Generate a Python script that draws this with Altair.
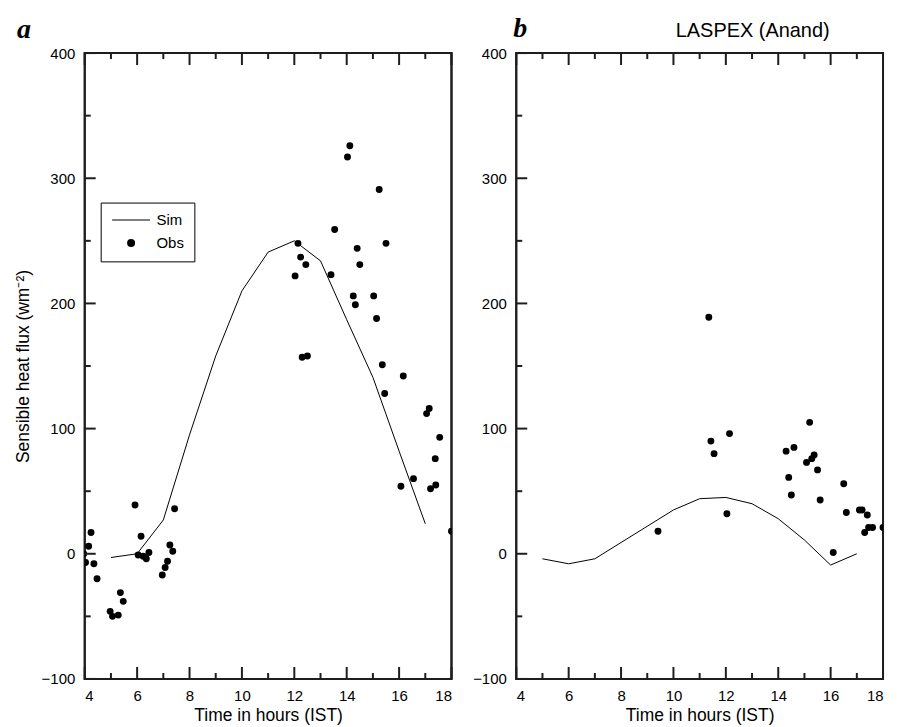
import altair as alt
import pandas as pd

# ---- axis ticks / labels ----
X_MAJOR = [4, 6, 8, 10, 12, 14, 16, 18]
X_MINOR = [5, 7, 9, 11, 13, 15, 17]
Y_MAJOR = [-100, 0, 100, 200, 300, 400]
Y_MINOR = [-50, 50, 150, 250, 350]

# ---- simulated series (hourly) ----
SIM_HOURS = [5, 6, 7, 8, 9, 10, 11, 12, 13, 14, 15, 16, 17]
SIM_A = [-3, 0, 27, 95, 158, 210, 241, 250, 234, 187, 141, 82, 24]
SIM_B = [-4, -8, -4, 9, 22, 35, 44, 45, 40, 28, 11, -9, 0]

# ---- observations, panel a ----
OBS_A_HOURS = [3.96, 4.03, 4.15, 4.24, 4.35, 4.47, 4.97, 5.06, 5.28, 5.36, 5.47,
               5.92, 6.04, 6.15, 6.23, 6.35, 6.45, 6.96, 7.07, 7.16, 7.25, 7.36, 7.43,
               12.03, 12.14, 12.24, 12.30, 12.44, 12.50, 13.40, 13.54, 14.03, 14.12,
               14.25, 14.33, 14.40, 14.50, 15.03, 15.14, 15.24, 15.36, 15.45, 15.50,
               16.07, 16.16, 16.55, 17.05, 17.15, 17.20, 17.38, 17.40, 17.55, 18.00]
OBS_A_FLUX = [0, -7, 6, 17, -8, -20, -46, -50, -49, -31, -38,
              39, -1, 14, -2, -4, 1, -17, -11, -6, 7, 2, 36,
              222, 248, 237, 157, 231, 158, 223, 259, 317, 326,
              206, 199, 244, 231, 206, 188, 291, 151, 128, 248,
              54, 142, 60, 112, 116, 52, 76, 55, 93, 18]

# ---- observations, panel b ----
OBS_B_HOURS = [9.41, 11.35, 11.43, 11.55, 12.04, 12.14, 14.30, 14.40, 14.50, 14.60,
               15.08, 15.20, 15.28, 15.37, 15.50, 15.60, 16.10, 16.50, 16.60, 17.10,
               17.20, 17.30, 17.40, 17.45, 17.60, 18.00]
OBS_B_FLUX = [18, 189, 90, 80, 32, 96, 82, 61, 47, 85,
              73, 105, 76, 79, 67, 43, 1, 56, 33, 35,
              35, 17, 31, 21, 21, 21]

PANEL_B_NOTE = "LASPEX (Anand)"
X_TITLE = "Time in hours (IST)"
Y_TITLE = "Sensible heat flux (wm\u207b\u00b2)"
# thin filled bar used as the "line" legend symbol
SIM_PATH = "M-4.75,-0.14L4.75,-0.14L4.75,0.14L-4.75,0.14Z"

W, H = 368, 628
FONT = "Liberation Sans"
INK = "#1e1e1e"

xscale = alt.Scale(domain=[4, 18], nice=False, zero=False)
yscale = alt.Scale(domain=[-100, 400], nice=False, zero=False)

XAXIS = alt.Axis(values=X_MAJOR, title=X_TITLE, format="d",
                 ticks=False, tickSize=0, domain=False, grid=False,
                 labelFontSize=15, labelPadding=10, labelColor="black",
                 titleFontSize=17.5, titleFontWeight="normal",
                 titlePadding=3, titleColor="black", labelFont=FONT, titleFont=FONT)
YAXIS_A = alt.Axis(values=Y_MAJOR, title=Y_TITLE, format="d",
                   ticks=False, tickSize=0, domain=False, grid=False,
                   labelFontSize=15, labelPadding=10, labelColor="black",
                   titleFontSize=17.5, titleFontWeight="normal",
                   titlePadding=9, titleColor="black", labelFont=FONT, titleFont=FONT)
YAXIS_B = alt.Axis(values=Y_MAJOR, title=None, format="d",
                   ticks=False, tickSize=0, domain=False, grid=False,
                   labelFontSize=15, labelPadding=10, labelColor="black",
                   labelFont=FONT)


def frame_layer():
    return alt.Chart(alt.Data(values=[{"k": 1}])).mark_rect(
        filled=False, stroke=INK, strokeWidth=2
    ).encode(x=alt.value(0), x2=alt.value(W), y=alt.value(0), y2=alt.value(H))


def tick_layers(yaxis):
    layers = []
    for vals, ln in ((X_MAJOR, 12), (X_MINOR, 6)):
        base = alt.Chart(pd.DataFrame({"hour": vals})).mark_rule(color=INK, strokeWidth=2)
        layers.append(base.encode(x=alt.X("hour:Q", scale=xscale, axis=XAXIS),
                                  y=alt.value(H), y2=alt.value(H - ln)))
        layers.append(base.encode(x=alt.X("hour:Q", scale=xscale, axis=XAXIS),
                                  y=alt.value(0), y2=alt.value(ln)))
    for vals, ln in ((Y_MAJOR, 11), (Y_MINOR, 6)):
        base = alt.Chart(pd.DataFrame({"flux": vals})).mark_rule(color=INK, strokeWidth=2)
        layers.append(base.encode(y=alt.Y("flux:Q", scale=yscale, axis=yaxis),
                                  x=alt.value(0), x2=alt.value(ln)))
    return layers


def label_layer(text, x, y, size, font, style="normal", weight="normal"):
    return alt.Chart(alt.Data(values=[{"label": text}])).mark_text(
        align="left", baseline="alphabetic", fontSize=size, font=font,
        fontStyle=style, fontWeight=weight, color="black"
    ).encode(text="label:N", x=alt.value(x), y=alt.value(y))


def panel(sim_vals, obs_x, obs_y, letter, first):
    sim_df = pd.DataFrame({"hour": SIM_HOURS, "flux": sim_vals})
    obs_df = pd.DataFrame({"hour": obs_x, "flux": obs_y, "kind": ["Obs"] * len(obs_x)})
    yaxis = YAXIS_A if first else YAXIS_B

    xenc = alt.X("hour:Q", scale=xscale, axis=XAXIS)
    yenc = alt.Y("flux:Q", scale=yscale, axis=yaxis)

    line = alt.Chart(sim_df).mark_line(color="black", strokeWidth=1, clip=True).encode(x=xenc, y=yenc)

    pmark = alt.Chart(obs_df).mark_point(filled=True, fill="black", size=48, opacity=1, clip=True)
    if first:
        pts = pmark.encode(
            x=xenc, y=yenc,
            shape=alt.Shape("kind:N",
                            scale=alt.Scale(domain=["Sim", "Obs"], range=[SIM_PATH, "circle"]),
                            legend=alt.Legend(title=None, orient="none", legendX=16, legendY=150,
                                              strokeColor="black", padding=10, fillColor="white",
                                              labelFontSize=15, labelFont=FONT, labelColor="black",
                                              labelOffset=18, rowPadding=7, symbolSize=64,
                                              symbolOffset=13, symbolFillColor="black")))
        layers = [frame_layer(), line, pts] + tick_layers(yaxis)
        return alt.layer(*layers).properties(
            width=W, height=H,
            title=alt.TitleParams(text=letter, anchor="start", frame="group", dx=-68,
                                  font="Liberation Serif", fontSize=28, fontStyle="italic",
                                  fontWeight="bold", offset=2, color="black"))

    pts = pmark.encode(x=xenc, y=yenc)
    layers = [frame_layer(), line, pts] + tick_layers(yaxis)
    layers.append(label_layer(letter, -3, -16, 28, "Liberation Serif", "italic", "bold"))
    layers.append(label_layer(PANEL_B_NOTE, 160, -16, 20, FONT))
    return alt.layer(*layers).properties(width=W, height=H)


a = panel(SIM_A, OBS_A_HOURS, OBS_A_FLUX, "a", True)
b = panel(SIM_B, OBS_B_HOURS, OBS_B_FLUX, "b", False)

chart = alt.hconcat(a, b, spacing=18).configure(
    background="white", font=FONT,
    view=alt.ViewConfig(stroke=INK, strokeWidth=2)
)

chart.save("out.html", embed_options={"renderer": "svg", "actions": False})
